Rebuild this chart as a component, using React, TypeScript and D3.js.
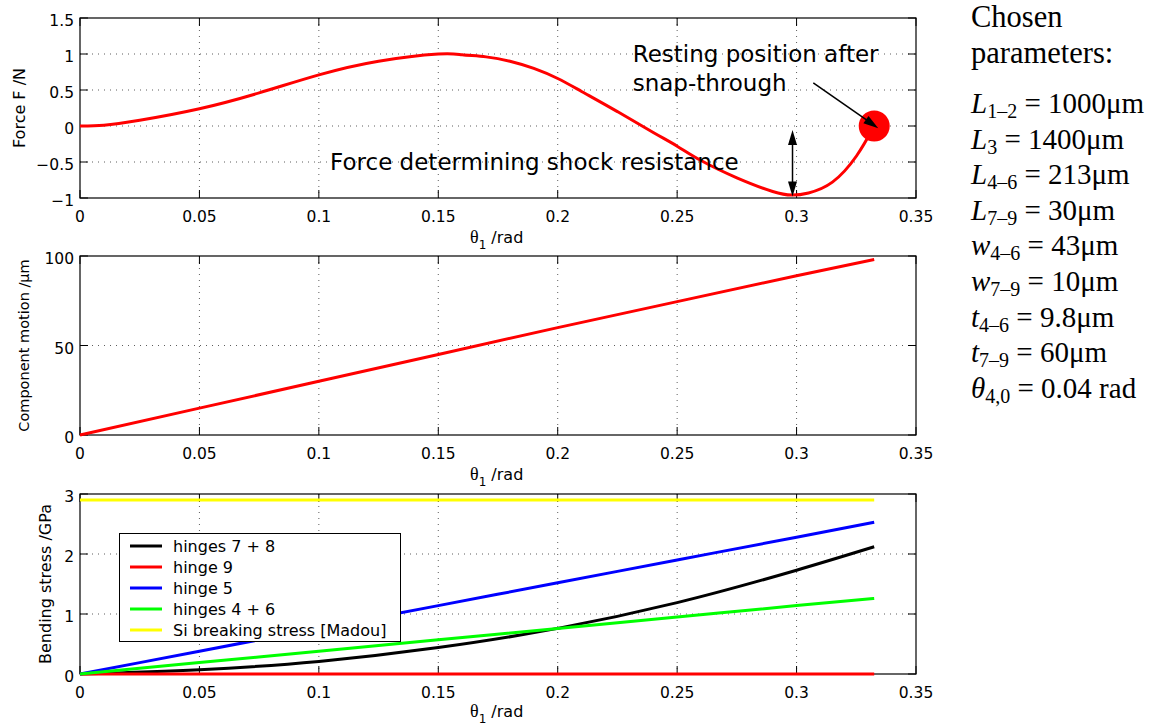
import React from "react";
import * as d3 from "d3";

// ---------- data ----------
const thetaTicks = [0, 0.05, 0.1, 0.15, 0.2, 0.25, 0.3, 0.35];
const forceTicks = [-1, -0.5, 0, 0.5, 1, 1.5];
const motionTicks = [0, 50, 100];
const stressTicks = [0, 1, 2, 3];

const forceTheta = [0, 0.01, 0.025, 0.05, 0.075, 0.1, 0.125, 0.15, 0.16, 0.17, 0.18, 0.19, 0.2, 0.21, 0.225, 0.24, 0.25, 0.26, 0.275, 0.29, 0.298, 0.305, 0.315, 0.325, 0.3325];
const forceValues = [0, 0.01, 0.08, 0.24, 0.46, 0.71, 0.9, 1.0, 0.99, 0.96, 0.9, 0.8, 0.66, 0.48, 0.2, -0.09, -0.28, -0.48, -0.72, -0.91, -0.96, -0.93, -0.78, -0.42, 0];

const motionTheta = [0, 0.05, 0.1, 0.15, 0.2, 0.25, 0.3, 0.3325];
const motionValues = [0, 15, 30, 45, 60, 74.5, 89, 98];

const stressTheta = [0, 0.05, 0.1, 0.15, 0.2, 0.25, 0.3, 0.3325];
const hinges78 = [0, 0.07, 0.21, 0.44, 0.76, 1.19, 1.73, 2.12];
const hinge9 = [0, 0, 0, 0, 0, 0, 0, 0];
const hinge5 = [0, 0.38, 0.76, 1.14, 1.52, 1.9, 2.28, 2.53];
const hinges46 = [0, 0.19, 0.38, 0.57, 0.76, 0.95, 1.14, 1.26];
const siBreaking = [2.9, 2.9, 2.9, 2.9, 2.9, 2.9, 2.9, 2.9];

const legendLabels = ["hinges 7 + 8", "hinge 9", "hinge 5", "hinges 4 + 6", "Si breaking stress [Madou]"];
const legendColors = ["#000000", "#ff0000", "#0000ff", "#00ff00", "#ffff00"];
const stressSeries = [hinges78, hinge9, hinge5, hinges46, siBreaking];

const paramSymbols = ["L", "L", "L", "L", "w", "w", "t", "t", "θ"];
const paramSubs = ["1–2", "3", "4–6", "7–9", "4–6", "7–9", "4–6", "7–9", "4,0"];
const paramValues = ["1000μm", "1400μm", "213μm", "30μm", "43μm", "10μm", "9.8μm", "60μm", "0.04 rad"];

// annotation anchors (data coordinates)
const restingPoint = { theta: 0.3325, force: 0 };
const restingArrow = { theta0: 0.307, f0: 0.6, theta1: 0.3342, f1: -0.03 };
const shockArrow = { theta: 0.2983, f0: -0.055, f1: -0.98 };

// ---------- layout ----------
const W = 1168;
const H = 727;
const X0 = 80;
const X1 = 916;
const SANS = "DejaVu Sans, sans-serif";
const TICKFS = 15.5;

const x = d3.scaleLinear().domain([0, 0.35]).range([X0, X1]);

function fmtY(d: number) {
  return d < 0 ? "−" + Math.abs(d) : String(d);
}

function arrowHead(x1: number, y1: number, x2: number, y2: number, len = 15, hw = 4.5) {
  const a = Math.atan2(y2 - y1, x2 - x1);
  const bx = x2 - len * Math.cos(a);
  const by = y2 - len * Math.sin(a);
  const px = -Math.sin(a) * hw;
  const py = Math.cos(a) * hw;
  return `${x2},${y2} ${bx + px},${by + py} ${bx - px},${by - py}`;
}

type PanelProps = {
  top: number;
  bottom: number;
  domain: [number, number];
  ticks: number[];
  ylabel: string;
  ylabelX: number;
  ylabelFs: number;
  xlabelDy: number;
  children: (y: d3.ScaleLinear<number, number>) => React.ReactNode;
  overlay?: (y: d3.ScaleLinear<number, number>) => React.ReactNode;
};

function Panel({ top, bottom, domain, ticks, ylabel, ylabelX, ylabelFs, xlabelDy, children, overlay }: PanelProps) {
  const y = d3.scaleLinear().domain(domain).range([bottom, top]);
  const tl = 8;
  return (
    <g>
      <rect x={X0} y={top} width={X1 - X0} height={bottom - top} fill="#fff" />
      {/* grid */}
      {thetaTicks.slice(1, -1).map((t) => (
        <line key={"gx" + t} x1={x(t)} x2={x(t)} y1={top} y2={bottom} stroke="#333" strokeWidth={0.8} strokeDasharray="1,5" />
      ))}
      {ticks.slice(1, -1).map((t) => (
        <line key={"gy" + t} x1={X0} x2={X1} y1={y(t)} y2={y(t)} stroke="#333" strokeWidth={0.8} strokeDasharray="1,5" />
      ))}
      {/* box */}
      <rect x={X0} y={top} width={X1 - X0} height={bottom - top} fill="none" stroke="#000" strokeWidth={1.2} />
      {/* ticks */}
      {thetaTicks.map((t) => (
        <g key={"tx" + t}>
          <line x1={x(t)} x2={x(t)} y1={bottom} y2={bottom - tl} stroke="#000" strokeWidth={1} />
          <line x1={x(t)} x2={x(t)} y1={top} y2={top + tl} stroke="#000" strokeWidth={1} />
          <text x={x(t)} y={bottom + 24} textAnchor="middle" fontFamily={SANS} fontSize={TICKFS}>
            {String(t)}
          </text>
        </g>
      ))}
      {ticks.map((t) => (
        <g key={"ty" + t}>
          <line x1={X0} x2={X0 + tl} y1={y(t)} y2={y(t)} stroke="#000" strokeWidth={1} />
          <line x1={X1} x2={X1 - tl} y1={y(t)} y2={y(t)} stroke="#000" strokeWidth={1} />
          <text x={74} y={y(t) + 8} textAnchor="end" fontFamily={SANS} fontSize={TICKFS}>
            {fmtY(t)}
          </text>
        </g>
      ))}
      {children(y)}
      {/* x label */}
      <text x={470} y={bottom + xlabelDy} fontFamily={SANS} fontSize={16}>
        <tspan fontFamily="Liberation Serif, serif" fontSize={18}>θ</tspan>
        <tspan fontSize={12} dy={6}>1</tspan>
        <tspan dy={-6}> /rad</tspan>
      </text>
      {/* y label */}
      <text
        transform={`translate(${ylabelX},${(top + bottom) / 2}) rotate(-90)`}
        textAnchor="middle"
        dominantBaseline="central"
        fontFamily={SANS}
        fontSize={ylabelFs}
      >
        {ylabel}
      </text>
      {overlay ? overlay(y) : null}
    </g>
  );
}

export default function App() {
  const forcePts = forceTheta.map((t, i) => [t, forceValues[i]] as [number, number]);
  const motionPts = motionTheta.map((t, i) => [t, motionValues[i]] as [number, number]);

  return (
    <svg width={W} height={H} style={{ position: "absolute", left: 0, top: 0, background: "#fff" }}>
      <rect width={W} height={H} fill="#fff" />
      {/* Top: force */}
      <Panel
        top={18}
        bottom={198}
        domain={[-1, 1.5]}
        ticks={forceTicks}
        ylabel="Force F /N"
        ylabelX={19}
        ylabelFs={16}
        xlabelDy={45}
        children={(y) => {
          const line = d3
            .line<[number, number]>()
            .x((d) => x(d[0]))
            .y((d) => y(d[1]))
            .curve(d3.curveNatural);
          const ax1 = x(restingArrow.theta0);
          const ay1 = y(restingArrow.f0);
          const ax2 = x(restingArrow.theta1);
          const ay2 = y(restingArrow.f1);
          const ang = Math.atan2(ay2 - ay1, ax2 - ax1);
          const sx = x(shockArrow.theta);
          const sy0 = y(shockArrow.f0);
          const sy1 = y(shockArrow.f1);
          return (
            <g>
              <path d={line(forcePts) || ""} fill="none" stroke="#ff0000" strokeWidth={3} />
              <circle cx={x(restingPoint.theta)} cy={y(restingPoint.force)} r={15.5} fill="#ff0000" />
              {/* resting arrow */}
              <line x1={ax1} y1={ay1} x2={ax2 - 10 * Math.cos(ang)} y2={ay2 - 10 * Math.sin(ang)} stroke="#000" strokeWidth={1.5} />
              <polygon points={arrowHead(ax1, ay1, ax2, ay2, 15, 4.5)} fill="#000" />
              {/* shock arrow */}
              <line x1={sx} y1={sy0 + 10} x2={sx} y2={sy1 - 10} stroke="#000" strokeWidth={1.5} />
              <polygon points={arrowHead(sx, sy1, sx, sy0, 15, 4.5)} fill="#000" />
              <polygon points={arrowHead(sx, sy0, sx, sy1, 15, 4.5)} fill="#000" />
              {/* annotations */}
              <text x={x(0.1047)} y={y(-0.61)} fontFamily={SANS} fontSize={23}>
                Force determining shock resistance
              </text>
              <text x={x(0.2314)} y={y(0.893)} fontFamily={SANS} fontSize={23}>
                Resting position after
              </text>
              <text x={x(0.2314)} y={y(0.49)} fontFamily={SANS} fontSize={23}>
                snap-through
              </text>
            </g>
          );
        }}
      />
      {/* Middle: motion */}
      <Panel
        top={256}
        bottom={435}
        domain={[0, 100]}
        ticks={motionTicks}
        ylabel="Component motion /μm"
        ylabelX={24}
        ylabelFs={14.5}
        xlabelDy={45}
        children={(y) => {
          const line = d3
            .line<[number, number]>()
            .x((d) => x(d[0]))
            .y((d) => y(d[1]));
          return <path d={line(motionPts) || ""} fill="none" stroke="#ff0000" strokeWidth={3} />;
        }}
      />
      {/* Bottom: stress */}
      <Panel
        top={494}
        bottom={674}
        domain={[0, 3]}
        ticks={stressTicks}
        ylabel="Bending stress /GPa"
        ylabelX={45}
        ylabelFs={16}
        xlabelDy={43}
        children={(y) => {
          const line = d3
            .line<number>()
            .x((_, i) => x(stressTheta[i]))
            .y((d) => y(d))
            .curve(d3.curveMonotoneX);
          return (
            <g>
              {stressSeries.map((s, i) => (
                <path key={i} d={line(s) || ""} fill="none" stroke={legendColors[i]} strokeWidth={3} />
              ))}
            </g>
          );
        }}
        overlay={() => (
          <g>
            <rect x={119.5} y={533.5} width={281} height={108} fill="#fff" stroke="#000" strokeWidth={1} />
            {legendLabels.map((lab, i) => {
              const cy = 546 + i * 21;
              return (
                <g key={lab}>
                  <line x1={130} x2={162} y1={cy} y2={cy} stroke={legendColors[i]} strokeWidth={3} />
                  <text x={173} y={cy + 6} fontFamily={SANS} fontSize={16}>
                    {lab}
                  </text>
                </g>
              );
            })}
          </g>
        )}
      />
      {/* Chosen parameters */}
      <g fontFamily="Liberation Serif, Times New Roman, serif" fontSize={29}>
        <text x={971} y={27} fontSize={30.5}>Chosen</text>
        <text x={971} y={63} fontSize={30.5}>parameters:</text>
        {paramSymbols.map((s, i) => (
          <text key={i} x={971} y={113 + i * 35.6}>
            <tspan fontStyle="italic">{s}</tspan>
            <tspan fontSize={20} dy={5}>{paramSubs[i]}</tspan>
            <tspan dy={-5}>{" = " + paramValues[i]}</tspan>
          </text>
        ))}
      </g>
    </svg>
  );
}
